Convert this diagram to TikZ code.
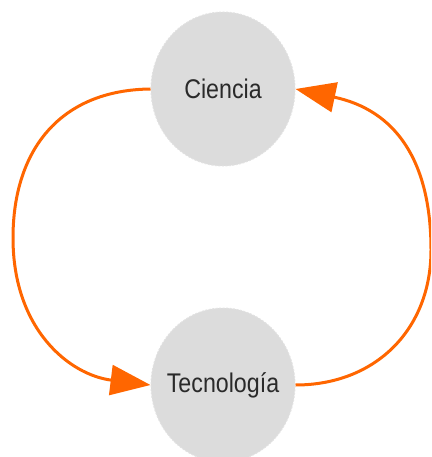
\documentclass[tikz,border=0pt]{standalone}
\usepackage{fontspec}
\setmainfont{Liberation Sans}[FakeStretch=0.86]
\usetikzlibrary{arrows.meta,shapes.geometric}
\definecolor{nodegray}{HTML}{DCDCDC}
\definecolor{nodeedge}{HTML}{E2E2E2}
\definecolor{arroworange}{HTML}{FF6600}
\definecolor{textgray}{HTML}{2A2A2A}
\tikzset{
  bubble/.style={ellipse, minimum width=144pt, minimum height=154pt, inner sep=0pt,
    fill=nodegray, draw=nodeedge, dash pattern=on 2pt off 1.5pt, line width=1pt},
  bubbletext/.style={text=textgray, font=\fontsize{27}{30}\selectfont, inner sep=0pt},
  link/.style={draw=arroworange, line width=3pt,
    -{Triangle[length=40pt,width=30pt]}},
}
\begin{document}
\begin{tikzpicture}[x=1pt,y=-1pt]
\path[use as bounding box] (0,0) rectangle (431,457);
\clip (0,0) rectangle (431,457);
\node[bubble] (c) at (223,89) {};
\node[bubbletext] (ct) at (c) {Ciencia};
\node[bubble] (t) at (223,385) {};
\node[bubbletext] (tt) at (t) {Tecnología};
\draw[link] (c.west) .. controls (60,90) and (13,150) .. (13,238)
  .. controls (13,330) and (70,375) .. (t.west);
\draw[link] (t.east) .. controls (375,385) and (431,330) .. (431,250)
  .. controls (431,160) and (395,110) .. (c.east);
\end{tikzpicture}
\end{document}
